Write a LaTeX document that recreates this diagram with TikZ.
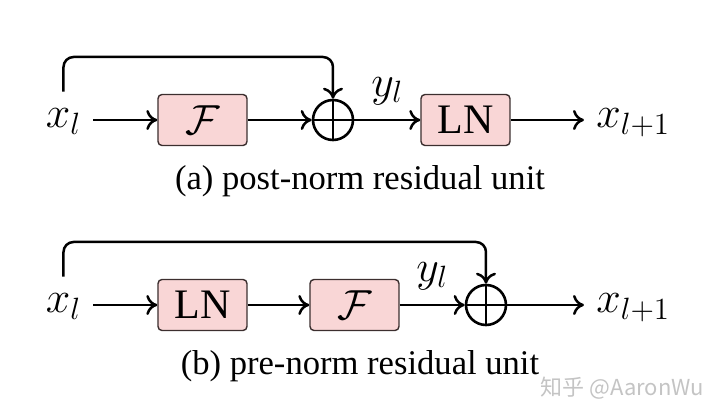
\RequirePackage{fix-cm}
\documentclass[tikz,border=0pt]{standalone}
\usepackage{fontspec}
\setmainfont{Liberation Serif}
\newfontfamily\cjkfont{Noto Sans CJK SC}
\usetikzlibrary{arrows.meta}
\definecolor{boxfill}{HTML}{F9D6D6}
\definecolor{boxline}{HTML}{3C2F2F}
\definecolor{marktext}{HTML}{C4C4C4}
\tikzset{
  res box/.style={draw=boxline,fill=boxfill,line width=.7pt,rounded corners=2pt,minimum width=44.5pt,minimum height=25.5pt,inner sep=0pt,font=\fontsize{21}{25}\selectfont},
  res link/.style={line width=1.25pt,-{To[length=5.5pt,width=10pt]}},
  res sum/.style={circle,draw,line width=1.3pt,minimum size=20pt,inner sep=0pt,
    path picture={\draw[line width=1.3pt] (path picture bounding box.north)--(path picture bounding box.south)
      (path picture bounding box.west)--(path picture bounding box.east);}},
  res label/.style={inner xsep=6pt,inner ysep=8.5pt},
  res caption/.style={font=\fontsize{17.3}{20}\selectfont,anchor=base}
}

\begin{document}
\begin{tikzpicture}[x=0.5pt,y=-0.5pt,font=\fontsize{22}{26}\selectfont]
  \useasboundingbox (0,0) rectangle (720,417);
  \node[res label,anchor=base] (xa) at (63.5,128) {$x_l$};
  \node[res box] (fa) at (202.5,120) {$\mathcal{F}$};
  \node[res sum] (oa) at (333,120) {};
  \node[res box] (lna) at (465.5,120) {LN};
  \node[res label,anchor=base west] (xna) at (584,128) {$x_{l+1}$};
  \coordinate (topa) at (200,57);
  \draw[res link] (xa.east |- fa) -- (fa);
  \draw[res link] (fa) -- (oa);
  \draw[res link] (oa) -- node[above=7pt,inner sep=0pt] {$y_l$} (lna);
  \draw[res link] (lna) -- (xna.west |- lna);
  \draw[res link,rounded corners=5pt] (xa.north) |- (topa) -| (oa.north);
  \node[res caption] (capa) at (360,190) {(a) post-norm residual unit};
  \begin{scope}
    \node[res label,anchor=base] (xb) at (63.5,313) {$x_l$};
    \node[res box] (lnb) at (202.5,305) {LN};
    \node[res box] (fb) at (354.5,305) {$\mathcal{F}$};
    \node[res sum] (ob) at (486,305) {};
    \node[res label,anchor=base west] (xnb) at (584,313) {$x_{l+1}$};
    \coordinate (topb) at (200,242);
    \draw[res link] (xb.east |- lnb) -- (lnb);
    \draw[res link] (lnb) -- (fb);
    \draw[res link] (fb) -- node[above=7pt,inner sep=0pt] {$y_l$} (ob);
    \draw[res link] (ob) -- (xnb.west |- ob);
    \draw[res link,rounded corners=5pt] (xb.north) |- (topb) -| (ob.north);
    \node[res caption] (capb) at (360,375) {(b) pre-norm residual unit};
  \end{scope}
  \node[anchor=west,inner sep=0pt,text=marktext,font=\cjkfont\fontsize{11}{13}\selectfont] (mark) at (540,388) {知乎 @AaronWu};
\end{tikzpicture}
\end{document}
